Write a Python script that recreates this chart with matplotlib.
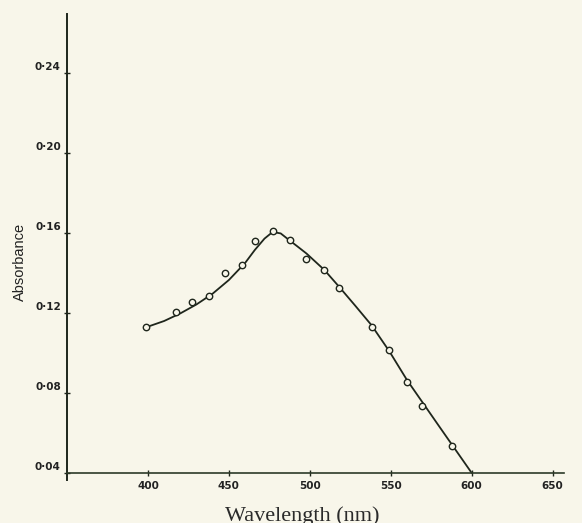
import matplotlib
matplotlib.use("Agg")
import matplotlib.pyplot as plt
from matplotlib.transforms import ScaledTranslation

# Measured data points (open circles)
wavelength = [399, 417.5, 427.5, 438, 447.5, 458, 466, 477, 487.5, 497.5,
              508.5, 518, 538.5, 549, 560, 569.5, 588]
absorbance = [0.1129, 0.1204, 0.1257, 0.1285, 0.1399, 0.1439, 0.1562, 0.1610,
              0.1564, 0.1470, 0.1415, 0.1327, 0.1132, 0.1015, 0.0855, 0.0735,
              0.0535]

# Drawn curve through the points
curve_wl = [399, 410, 420, 430, 440, 450, 460, 466, 472, 477, 482, 487, 492,
            498, 509, 518, 528, 538, 549, 560, 580, 600]
curve_abs = [0.1129, 0.1160, 0.1198, 0.1243, 0.1297, 0.1365, 0.1450, 0.1515,
             0.1572, 0.1605, 0.1598, 0.1566, 0.1535, 0.1497, 0.1415, 0.1332,
             0.1237, 0.1140, 0.1010, 0.0865, 0.0632, 0.0400]

x_ticks = [400, 450, 500, 550, 600, 650]
x_tick_labels = ["400", "450", "500", "550", "600", "650"]
y_ticks = [0.04, 0.08, 0.12, 0.16, 0.20, 0.24]
y_tick_labels = ["0·04", "0·08", "0·12", "0·16", "0·20", "0·24"]

paper = "#f8f6ea"
ink = "#1f261c"

fig = plt.figure(figsize=(5.82, 5.23), dpi=100, facecolor=paper)
ax = fig.add_axes([67 / 582, 43 / 523, (564 - 67) / 582, (480 - 14) / 523])
ax.set_facecolor(paper)

ax.plot(curve_wl, curve_abs, color=ink, lw=1.3, zorder=2,
        solid_joinstyle="round", solid_capstyle="round")
ax.plot(wavelength, absorbance, linestyle="none", marker="o", markersize=4.6,
        markerfacecolor=paper, markeredgecolor=ink, markeredgewidth=1.0, zorder=3)

ax.set_xlim(350, 657)
ax.set_ylim(0.0365, 0.2695)

for s in ["top", "right"]:
    ax.spines[s].set_visible(False)
ax.spines["bottom"].set_position(("data", 0.04))
ax.spines["bottom"].set_color("#2d3a28")
ax.spines["left"].set_color(ink)
ax.spines["bottom"].set_linewidth(1.2)
ax.spines["left"].set_linewidth(1.4)

ax.set_xticks(x_ticks)
ax.set_xticklabels(x_tick_labels, fontsize=7.5, fontweight="bold",
                   family="DejaVu Sans", color="#222222")
ax.set_yticks(y_ticks)
ax.set_yticklabels(y_tick_labels, fontsize=7.5, fontweight="bold",
                   family="DejaVu Sans", color="#222222")
ax.tick_params(axis="x", direction="inout", length=5, width=1.0, pad=3.0, colors=ink)
ax.tick_params(axis="y", direction="inout", length=5, width=1.0, pad=2.0, colors=ink)
for lab in ax.get_xticklabels():
    lab.set_color("#222222")
shift = ScaledTranslation(0, 7 / 100, fig.dpi_scale_trans)
for lab in ax.get_yticklabels():
    lab.set_transform(lab.get_transform() + shift)
    lab.set_color("#222222")

fig.text(20 / 582, 1 - 262 / 523, "Absorbance", rotation=90, ha="center",
         va="center", fontsize=10.5, family="Liberation Sans", color="#222222")
fig.text(302 / 582, 1 - 521 / 523, "Wavelength (nm)", ha="center",
         va="baseline", fontsize=16, family="Liberation Serif", color="#2a2a2a")

fig.savefig("out.png", dpi=100, facecolor=paper)
